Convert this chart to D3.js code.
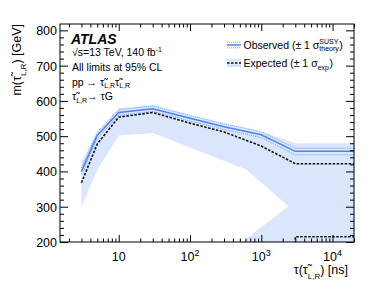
<!DOCTYPE html>
<html><head><meta charset="utf-8">
<script src="https://cdn.jsdelivr.net/npm/d3@7"></script>
<style>
body{margin:0;background:#fff}
text{font-family:"Liberation Sans",Arial,Helvetica,sans-serif;fill:#000}
</style>
</head><body>
<svg id="c" width="373" height="289"></svg>
<script>
// ---- data ----
const lifetimes   = [3, 5, 10, 30, 100, 300, 1000, 3000, 20000];
const observed    = [400, 503, 567, 578, 551, 527, 504, 457, 457];
const observedUp  = [410, 512, 575, 586, 559, 535, 513, 466, 466];
const observedDn  = [392, 494, 559, 570, 543, 519, 496, 447, 447];
const expected    = [368, 478, 554, 567, 537, 512, 472, 422, 422];
const expectedLowTau  = [3000, 3000, 20000];
const expectedLowMass = [195, 215, 215];
const bandTau  = [3, 5, 10, 30, 100, 300, 1000, 3000, 20000, 20000, 500, 2400, 625, 100, 30, 10, 5, 3];
const bandMass = [428, 509, 580, 587, 560, 535, 513, 480, 480, 195, 195, 301, 405, 468, 509, 502, 405, 300];
const xMajorTicks = [10, 100, 1000, 10000];
const xTickBase = ["10", "10", "10", "10"];
const xTickExp  = ["", "2", "3", "4"];
const yMajorTicks = [200, 300, 400, 500, 600, 700, 800];

// ---- layout ----
const L = 60, R = 354, T = 24, B = 242;
const svg = d3.select("#c");
const x = d3.scaleLog().domain([1.5, 20000]).range([L, R]);
const y = d3.scaleLinear().domain([200, 818]).range([B, T]);

const cBand = "#dae6fc", cObs = "#4a84f4", cObsDot = "#76a2f6";

svg.append("defs").append("clipPath").attr("id", "clip")
  .append("rect").attr("x", L).attr("y", T).attr("width", R - L).attr("height", B - T);
const g = svg.append("g").attr("clip-path", "url(#clip)");

const band = bandTau.map((t, i) => [x(t), y(bandMass[i])]);
g.append("path").attr("d", d3.line()(band) + "Z").attr("fill", cBand).attr("stroke", "none");

const line = d3.line().x(d => x(d[0])).y(d => y(d[1]));
const mk = arr => lifetimes.map((t, i) => [t, arr[i]]);

g.append("path").attr("d", line(mk(observedUp))).attr("fill", "none")
  .attr("stroke", cObsDot).attr("stroke-width", 1).attr("stroke-dasharray", "1,1");
g.append("path").attr("d", line(mk(observedDn))).attr("fill", "none")
  .attr("stroke", cObsDot).attr("stroke-width", 1).attr("stroke-dasharray", "1,1");
g.append("path").attr("d", line(mk(observed))).attr("fill", "none")
  .attr("stroke", cObs).attr("stroke-width", 1.5);
g.append("path").attr("d", line(mk(expected))).attr("fill", "none")
  .attr("stroke", "#111").attr("stroke-width", 1.6).attr("stroke-dasharray", "2.5,1.5");
g.append("path").attr("d", line(expectedLowTau.map((t, i) => [t, expectedLowMass[i]]))).attr("fill", "none")
  .attr("stroke", "#111").attr("stroke-width", 1.6).attr("stroke-dasharray", "2.5,1.5");

// ---- axes ----
const xMinor = [];
for (let e = 0; e <= 4; e++) for (let k = 2; k <= 9; k++) {
  const v = k * Math.pow(10, e);
  if (v >= 1.5 && v <= 20000) xMinor.push(v);
}
const yMinor = d3.range(200, 818, 20).filter(v => v % 100 !== 0);

function styleAxis(sel) {
  sel.select(".domain").remove();
  sel.selectAll(".tick line").attr("stroke", "#000").attr("stroke-width", 1);
}
// bottom
svg.append("g").attr("transform", `translate(0,${B})`)
  .call(d3.axisBottom(x).tickValues(xMajorTicks).tickSize(-7).tickFormat("")).call(styleAxis);
svg.append("g").attr("transform", `translate(0,${B})`)
  .call(d3.axisBottom(x).tickValues(xMinor).tickSize(-3.5).tickFormat("")).call(styleAxis);
// top
svg.append("g").attr("transform", `translate(0,${T})`)
  .call(d3.axisTop(x).tickValues(xMajorTicks).tickSize(-7).tickFormat("")).call(styleAxis);
svg.append("g").attr("transform", `translate(0,${T})`)
  .call(d3.axisTop(x).tickValues(xMinor).tickSize(-3.5).tickFormat("")).call(styleAxis);
// left
const yl = svg.append("g").attr("transform", `translate(${L},0)`)
  .call(d3.axisLeft(y).tickValues(yMajorTicks).tickSize(-8).tickPadding(3).tickFormat(d3.format("d")));
styleAxis(yl);
yl.selectAll("text").attr("font-size", 12.5).attr("font-family", "Liberation Sans, Arial, sans-serif").attr("fill", "#000").attr("dy", "0.36em");
svg.append("g").attr("transform", `translate(${L},0)`)
  .call(d3.axisLeft(y).tickValues(yMinor).tickSize(-4).tickFormat("")).call(styleAxis);
// right
svg.append("g").attr("transform", `translate(${R},0)`)
  .call(d3.axisRight(y).tickValues(yMajorTicks).tickSize(-8).tickFormat("")).call(styleAxis);
svg.append("g").attr("transform", `translate(${R},0)`)
  .call(d3.axisRight(y).tickValues(yMinor).tickSize(-4).tickFormat("")).call(styleAxis);

svg.append("rect").attr("x", L).attr("y", T).attr("width", R - L).attr("height", B - T)
  .attr("fill", "none").attr("stroke", "#000").attr("stroke-width", 1);

// x tick labels
xMajorTicks.forEach((v, i) => {
  const t = svg.append("text").attr("x", x(v)).attr("y", 261).attr("text-anchor", "middle").attr("font-size", 12.5);
  t.append("tspan").text(xTickBase[i]);
  if (xTickExp[i]) t.append("tspan").attr("font-size", 9).attr("dy", -5).text(xTickExp[i]);
});

// axis titles
const yt = svg.append("text").attr("transform", `translate(21,${T}) rotate(-90)`)
  .attr("text-anchor", "end").attr("font-size", 12.5);
yt.append("tspan").text("m(\u03C4\u0303");
yt.append("tspan").attr("font-size", 8).attr("dy", 4.5).text("L,R");
yt.append("tspan").attr("dy", -4.5).text(") [GeV]");

const xt = svg.append("text").attr("x", 348).attr("y", 274).attr("text-anchor", "end").attr("font-size", 12.5);
xt.append("tspan").text("\u03C4(\u03C4\u0303");
xt.append("tspan").attr("font-size", 8).attr("dy", 4.5).text("L,R");
xt.append("tspan").attr("dy", -4.5).text(") [ns]");

// ATLAS labels
svg.append("text").attr("x", 71).attr("y", 43.5).attr("font-size", 14)
  .attr("font-weight", "bold").attr("font-style", "italic").text("ATLAS");
const fs = 10.5;
const l1 = svg.append("text").attr("x", 72).attr("y", 56).attr("font-size", fs);
l1.append("tspan").text("\u221As=13 TeV, 140 fb");
l1.append("tspan").attr("font-size", 7).attr("dy", -4).text("-1");
svg.append("text").attr("x", 72).attr("y", 71).attr("font-size", fs).text("All limits at 95% CL");
const l3 = svg.append("text").attr("x", 72).attr("y", 85.5).attr("font-size", fs);
l3.append("tspan").text("pp \u2192 \u03C4\u0303");
l3.append("tspan").attr("font-size", 7).attr("dy", 2.5).text("L,R");
l3.append("tspan").attr("dy", -2.5).text("\u03C4\u0303");
l3.append("tspan").attr("font-size", 7).attr("dy", 2.5).text("L,R");
const l4 = svg.append("text").attr("x", 72).attr("y", 100).attr("font-size", fs);
l4.append("tspan").text("\u03C4\u0303");
l4.append("tspan").attr("font-size", 7).attr("dy", 2.5).text("L,R");
l4.append("tspan").attr("dy", -2.5).text("\u2192 \u03C4G");

// legend
const lx0 = 227, lx1 = 241;
const ly1 = 45, ly2 = 63;
svg.append("line").attr("x1", lx0).attr("x2", lx1).attr("y1", ly1 - 2.8).attr("y2", ly1 - 2.8)
  .attr("stroke", cObsDot).attr("stroke-width", 1).attr("stroke-dasharray", "1,1");
svg.append("line").attr("x1", lx0).attr("x2", lx1).attr("y1", ly1 + 2.8).attr("y2", ly1 + 2.8)
  .attr("stroke", cObsDot).attr("stroke-width", 1).attr("stroke-dasharray", "1,1");
svg.append("line").attr("x1", lx0).attr("x2", lx1).attr("y1", ly1).attr("y2", ly1)
  .attr("stroke", cObs).attr("stroke-width", 1.5);
svg.append("rect").attr("x", lx0).attr("y", ly2 - 4).attr("width", lx1 - lx0).attr("height", 8).attr("fill", cBand);
svg.append("line").attr("x1", lx0).attr("x2", lx1).attr("y1", ly2).attr("y2", ly2)
  .attr("stroke", "#111").attr("stroke-width", 1.6).attr("stroke-dasharray", "2.5,1.5");

const lfs = 10.5;
const t1 = svg.append("text").attr("x", 243.5).attr("y", 48.5).attr("font-size", lfs).text("Observed (\u00B1 1 \u03C3");
let e1 = 243.5 + t1.node().getComputedTextLength();
const s1 = svg.append("text").attr("x", e1).attr("y", 43.5).attr("font-size", 7).text("SUSY");
const s2 = svg.append("text").attr("x", e1).attr("y", 51).attr("font-size", 7).text("theory");
const e1b = e1 + Math.max(s1.node().getComputedTextLength(), s2.node().getComputedTextLength()) + 0.5;
svg.append("text").attr("x", e1b).attr("y", 48.5).attr("font-size", lfs).text(")");

const t2 = svg.append("text").attr("x", 243.5).attr("y", 66.5).attr("font-size", lfs).text("Expected (\u00B1 1 \u03C3");
let e2 = 243.5 + t2.node().getComputedTextLength();
const s3 = svg.append("text").attr("x", e2).attr("y", 69.5).attr("font-size", 7).text("exp");
svg.append("text").attr("x", e2 + s3.node().getComputedTextLength() + 0.5).attr("y", 66.5).attr("font-size", lfs).text(")");
</script>
</body></html>
